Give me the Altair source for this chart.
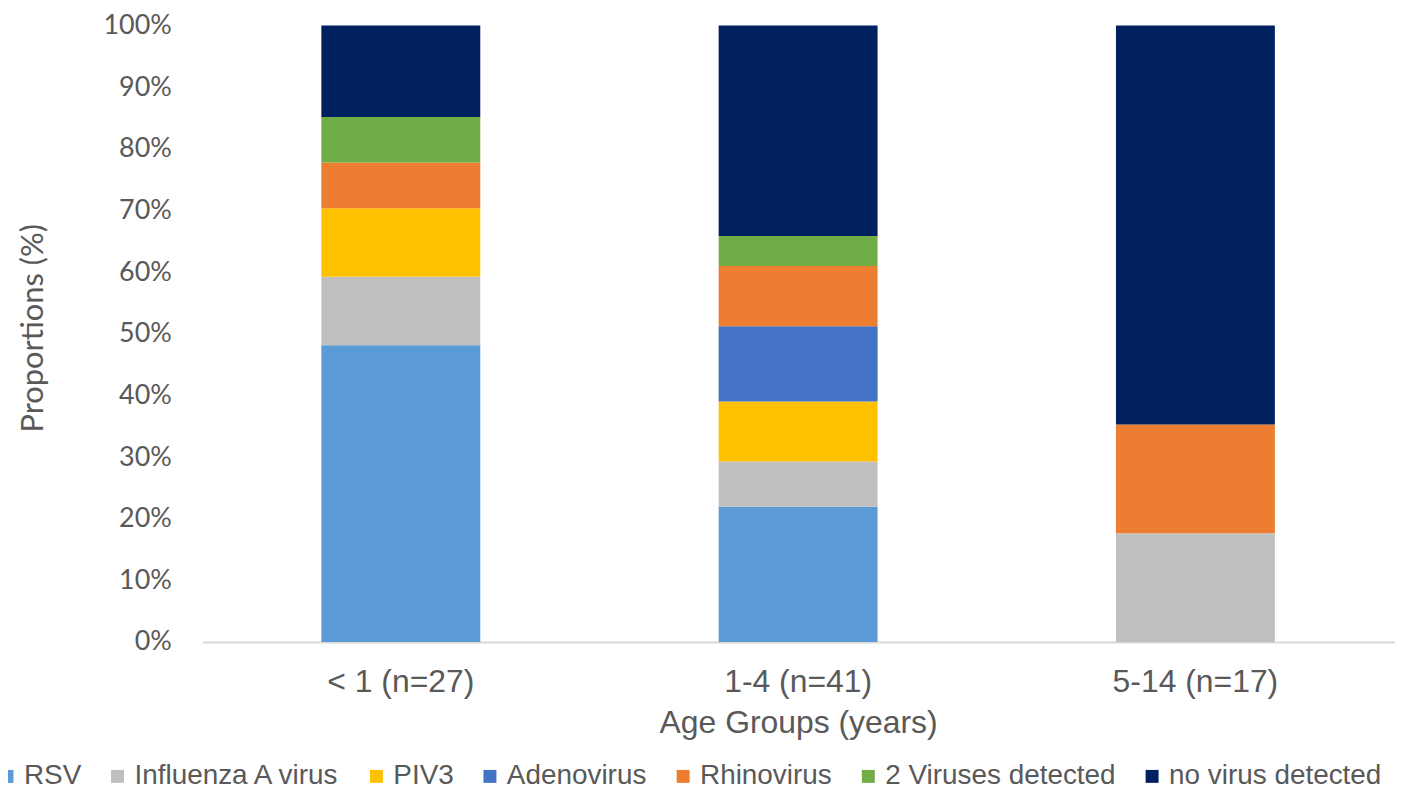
import altair as alt
import pandas as pd

groups = ["< 1 (n=27)", "1-4 (n=41)", "5-14 (n=17)"]
categories = ["RSV", "Influenza A virus", "PIV3", "Adenovirus", "Rhinovirus",
              "2 Viruses detected", "no virus detected"]
colors = ["#5B9BD5", "#BFBFBF", "#FFC000", "#4472C4", "#ED7D31", "#70AD47", "#002060"]

# proportions (%) per age group
rsv = [48.15, 21.95, 0.0]
flu_a = [11.11, 7.32, 17.65]
piv3 = [11.11, 9.76, 0.0]
adeno = [0.0, 12.20, 0.0]
rhino = [7.41, 9.76, 17.65]
two_viruses = [7.41, 4.88, 0.0]
no_virus = [14.81, 34.15, 64.71]

series = [rsv, flu_a, piv3, adeno, rhino, two_viruses, no_virus]
rows = []
for ci, (cat, vals) in enumerate(zip(categories, series)):
    for g, v in zip(groups, vals):
        rows.append({"group": g, "category": cat, "value": v, "order": ci})
df = pd.DataFrame(rows)

label_grey = "#595959"

chart = alt.Chart(df).mark_bar().encode(
    x=alt.X("group:N", sort=groups,
            scale=alt.Scale(paddingInner=0.6, paddingOuter=0.3),
            axis=alt.Axis(title="Age Groups (years)", labelAngle=0,
                          labelFont="Liberation Sans", labelFontSize=32,
                          labelColor=label_grey, labelBaseline="alphabetic",
                          labelPadding=50, ticks=False, tickSize=0,
                          domainColor="#D9D9D9", domainWidth=2,
                          titleFont="Liberation Sans", titleFontSize=32,
                          titleFontWeight="normal", titleColor=label_grey,
                          titleBaseline="alphabetic", titleY=91)),
    y=alt.Y("value:Q", stack="normalize",
            scale=alt.Scale(domain=[0, 1]),
            axis=alt.Axis(title="Proportions (%)", format=".0%",
                          values=[i / 10 for i in range(11)],
                          labelFont="Lato", labelFontSize=27,
                          labelColor=label_grey, labelPadding=31,
                          ticks=False, tickSize=0, domain=False, grid=False,
                          titleFont="Lato", titleFontSize=31,
                          titleFontWeight="normal", titleColor=label_grey,
                          titleBaseline="alphabetic", titleAlign="center",
                          titleAngle=270, titleX=-160, titleY=303.5)),
    color=alt.Color("category:N",
                    scale=alt.Scale(domain=categories, range=colors),
                    legend=alt.Legend(title=None, orient="none",
                                      direction="horizontal", columns=7,
                                      legendX=-210, legendY=740,
                                      symbolType="square", symbolSize=169,
                                      symbolStrokeWidth=0, labelOffset=3,
                                      columnPadding=22, padding=0,
                                      labelFont="Liberation Sans",
                                      labelFontSize=28, labelColor=label_grey,
                                      labelLimit=500)),
    order=alt.Order("order:Q", sort="ascending"),
).properties(
    width=1197, height=619,
    autosize=alt.AutoSizeParams(type="none"),
    padding={"left": 195, "top": 16, "right": 16, "bottom": 151},
).configure_view(stroke=None)

chart.save("out.html", embed_options={"renderer": "svg", "actions": False})
